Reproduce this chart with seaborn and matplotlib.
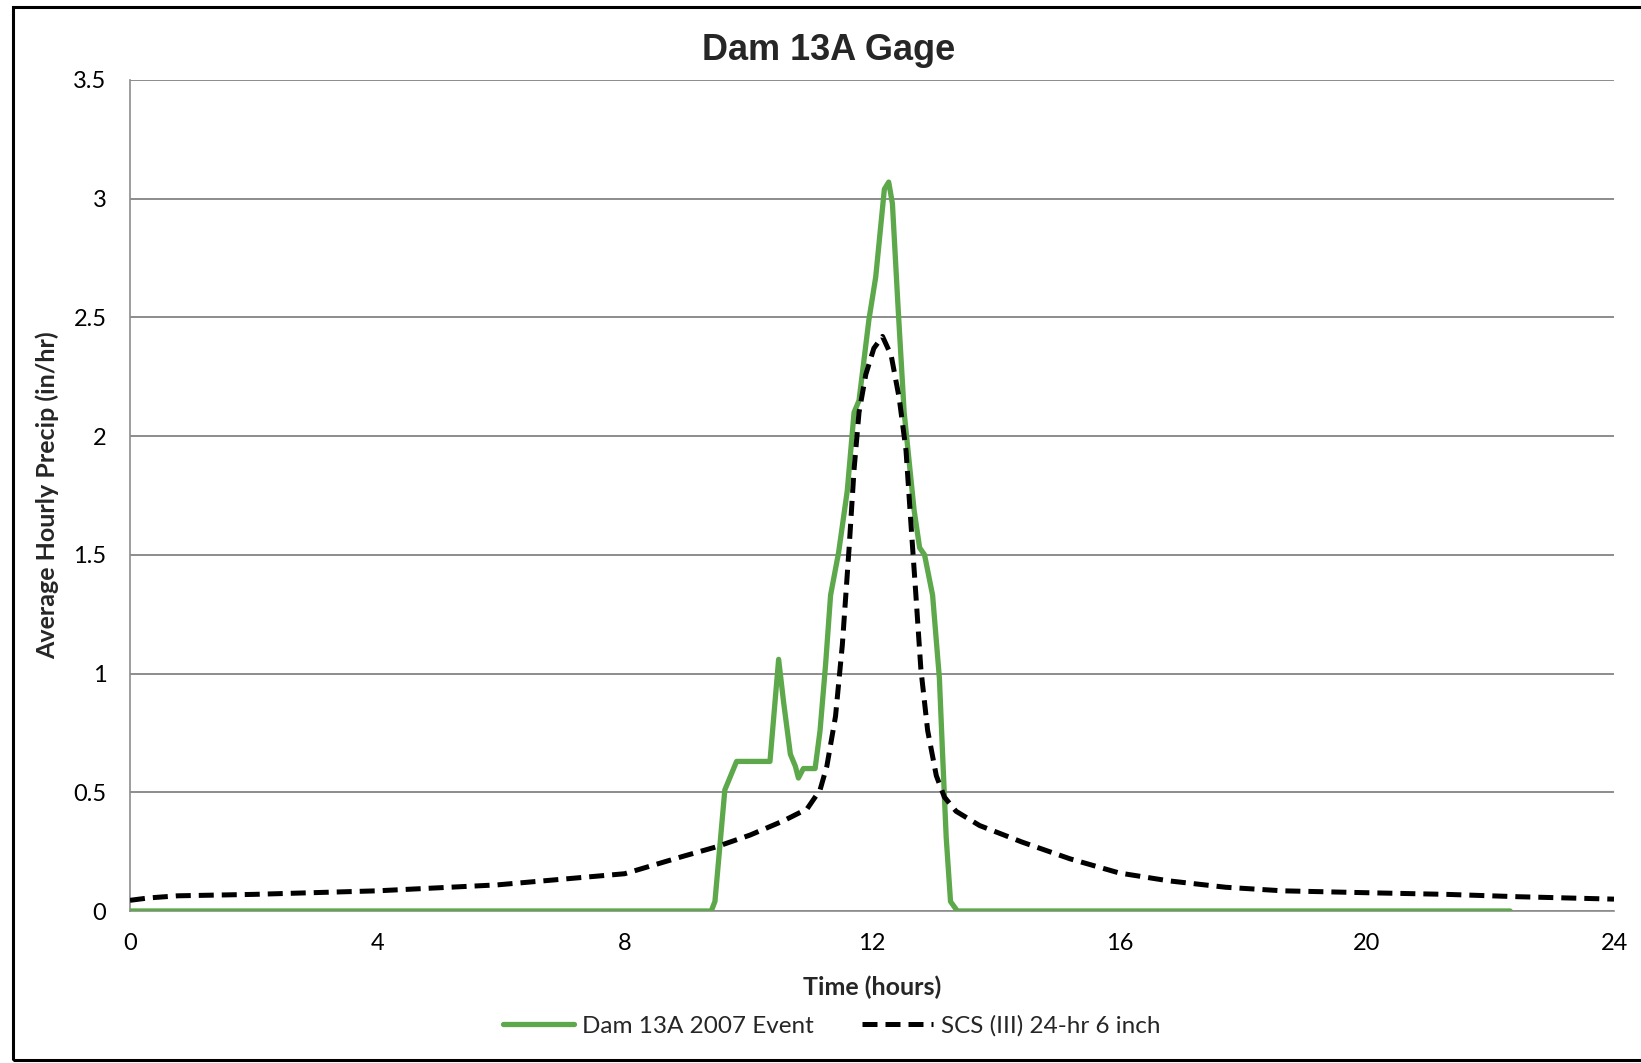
"""Dam 13A gage: observed 2007 hourly precip vs SCS Type III 24-hr design storm."""

import matplotlib.pyplot as plt
import seaborn as sns
from matplotlib.patches import Rectangle

# observed 2007 event (hours, in/hr)
event_hours = [0.0, 9.40, 9.46, 9.62, 9.81, 10.35, 10.49, 10.57, 10.68, 10.76, 10.81,
               10.89, 11.08, 11.16, 11.25, 11.33, 11.46, 11.60, 11.71, 11.79, 11.95,
               12.06, 12.20, 12.27, 12.33, 12.42, 12.52, 12.68, 12.77, 12.85, 12.98,
               13.09, 13.14, 13.20, 13.27, 13.38, 22.32]
event_precip = [0.0, 0.0, 0.04, 0.51, 0.63, 0.63, 1.06, 0.88, 0.66, 0.61, 0.56,
                0.60, 0.60, 0.76, 1.04, 1.33, 1.51, 1.77, 2.10, 2.15, 2.49,
                2.67, 3.04, 3.07, 2.98, 2.55, 2.10, 1.69, 1.53, 1.50, 1.33,
                0.98, 0.67, 0.31, 0.04, 0.0, 0.0]

# SCS (III) 24-hr 6 inch design storm
scs_hours = [0.0, 0.3, 0.77, 2.0, 4.0, 5.94, 8.0, 8.94, 9.48, 10.03, 10.57, 10.95,
             11.16, 11.27, 11.41, 11.52, 11.63, 11.71, 11.79, 11.90, 12.03, 12.17,
             12.31, 12.44, 12.55, 12.63, 12.71, 12.79, 12.90, 13.04, 13.17, 13.36,
             13.74, 14.43, 15.2, 16.0, 16.8, 17.72, 18.64, 20.0, 21.3, 22.47, 24.0]
scs_precip = [0.045, 0.055, 0.064, 0.07, 0.085, 0.11, 0.157, 0.23, 0.27, 0.32, 0.38,
              0.43, 0.51, 0.61, 0.82, 1.12, 1.53, 1.86, 2.10, 2.26, 2.37, 2.42,
              2.34, 2.16, 1.94, 1.63, 1.33, 1.02, 0.76, 0.57, 0.48, 0.42,
              0.36, 0.29, 0.22, 0.16, 0.127, 0.10, 0.085, 0.077, 0.07, 0.06, 0.05]

x_ticks = [0, 4, 8, 12, 16, 20, 24]
y_ticks = [0, 0.5, 1, 1.5, 2, 2.5, 3, 3.5]
y_labels = ["0", "0.5", "1", "1.5", "2", "2.5", "3", "3.5"]

GREEN = "#5da84a"
GRID = "#8c8c8c"


def main() -> None:
    sns.set_style("white")
    plt.rcParams["font.family"] = ["Lato", "DejaVu Sans"]

    fig = plt.figure(figsize=(16.41, 10.63), dpi=100)
    ax = fig.add_axes([130 / 1641, 1 - 911 / 1063, (1614 - 130) / 1641, (911 - 80) / 1063])

    sns.lineplot(x=event_hours, y=event_precip, ax=ax, color=GREEN, lw=3.8,
                 label="Dam 13A 2007 Event", zorder=3)
    sns.lineplot(x=scs_hours, y=scs_precip, ax=ax, color="black", lw=3.6,
                 label="SCS (III) 24-hr 6 inch", zorder=4)
    ax.lines[1].set_dashes((3, 1.6))

    ax.set_xlim(0, 24)
    ax.set_ylim(0, 3.5)
    ax.set_xticks(x_ticks)
    ax.set_yticks(y_ticks)
    ax.set_yticklabels(y_labels)
    ax.tick_params(axis="both", labelsize=17, colors=GRID, labelcolor="black",
                   length=6, width=1.2, direction="out")
    ax.tick_params(axis="y", pad=11)
    ax.tick_params(axis="x", pad=10)
    ax.yaxis.grid(True, color=GRID, lw=1.4)
    ax.set_axisbelow(True)
    for side in ("top", "right"):
        ax.spines[side].set_visible(False)
    for side in ("left", "bottom"):
        ax.spines[side].set_color(GRID)
        ax.spines[side].set_linewidth(1.2)

    ax.set_xlabel("Time (hours)", fontsize=18, fontweight="bold", labelpad=15)
    ax.set_ylabel("Average Hourly Precip (in/hr)", fontsize=18, fontweight="bold")
    ax.yaxis.set_label_coords(-0.048, 0.5)

    fig.text(0.505, 1 - 51 / 1063, "Dam 13A Gage", ha="center", va="center",
             fontsize=26, fontweight="bold", family="Liberation Sans")

    ax.legend(loc="center", bbox_to_anchor=(0.507, 1 - 1026 / 1063),
              bbox_transform=fig.transFigure, ncol=2, frameon=False,
              fontsize=17.5, handlelength=2.9, columnspacing=2.0, handletextpad=0.35)

    fig.patches.append(Rectangle((13 / 1641, 3 / 1063), 1.2, 1 - 10 / 1063,
                                 transform=fig.transFigure, fill=False,
                                 edgecolor="black", lw=2.2))

    fig.savefig("out.png", dpi=100)
    plt.close(fig)


if __name__ == "__main__":
    main()
